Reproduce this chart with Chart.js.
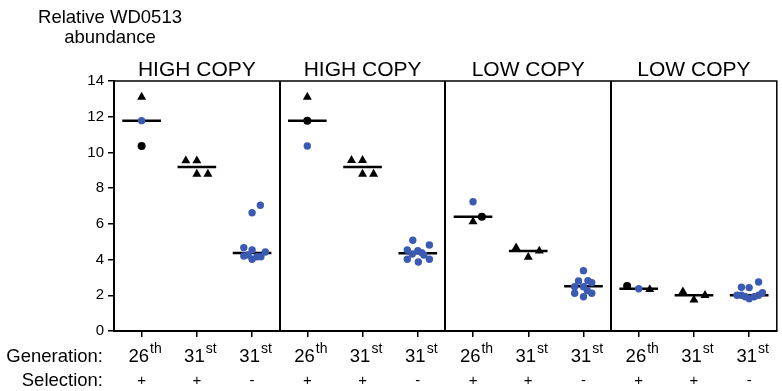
<!DOCTYPE html>
<html>
<head>
<meta charset="utf-8">
<script src="https://cdn.jsdelivr.net/npm/chart.js@4.4.1/dist/chart.umd.min.js"></script>
<style>
html,body{margin:0;padding:0;background:#fff;}
#wrap{width:782px;height:391px;}
</style>
</head>
<body>
<div id="wrap"><canvas id="c" width="782" height="391"></canvas></div>
<script>
// ---------- data ----------
const panelTitles = ['HIGH COPY', 'HIGH COPY', 'LOW COPY', 'LOW COPY'];
const generations = ['26', '31', '31', '26', '31', '31', '26', '31', '31', '26', '31', '31'];
const genSuffix   = ['th', 'st', 'st', 'th', 'st', 'st', 'th', 'st', 'st', 'th', 'st', 'st'];
const selection   = ['+', '+', '-', '+', '+', '-', '+', '+', '-', '+', '+', '-'];
const yTickValues = [0, 2, 4, 6, 8, 10, 12, 14];
const yTitle = ['Relative WD0513', 'abundance'];

// horizontal line value per category
const medians = [11.78, 9.18, 4.37, 11.78, 9.18, 4.35, 6.4, 4.48, 2.5, 2.37, 2.0, 2.0];

// black triangles: category index, value, horizontal jitter (in category units)
const triCat = [0, 1, 1, 1, 1, 3, 4, 4, 4, 4, 6, 7, 7, 7, 9, 10, 10, 10];
const triVal = [13.1, 9.54, 9.54, 8.79, 8.79, 13.1, 9.56, 9.56, 8.79, 8.79, 6.12, 4.67, 4.13, 4.48, 2.33, 2.2, 1.74, 2.0];
const triJit = [0, -0.2, 0, 0, 0.2, 0, -0.2, 0, 0, 0.2, 0, -0.22, 0, 0.2, 0.2, -0.2, 0, 0.2];

// black circles
const blkCat = [0, 3, 6, 9];
const blkVal = [10.36, 11.78, 6.4, 2.52];
const blkJit = [0, 0, 0.16, -0.21];

// blue circles
const bluCat = [0,
  2, 2, 2, 2, 2, 2, 2, 2, 2, 2,
  3,
  5, 5, 5, 5, 5, 5, 5, 5, 5, 5,
  6,
  8, 8, 8, 8, 8, 8, 8, 8, 8, 8,
  9,
  11, 11, 11, 11, 11, 11, 11, 11, 11, 11];
const bluVal = [11.78,
  4.67, 4.54, 4.2, 4.26, 4.02, 4.16, 4.16, 4.42, 6.62, 7.04,
  10.36,
  5.08, 4.82, 4.54, 4.5, 4.39, 4.31, 4.26, 4.02, 4.02, 3.86,
  7.24,
  3.38, 2.8, 2.82, 2.7, 2.48, 2.48, 2.11, 1.92, 2.11, 2.26,
  2.37,
  2.45, 2.43, 2.74, 2.0, 1.92, 1.81, 1.92, 2.14, 2.0, 2.0];
const bluJit = [0,
  -0.15, 0, -0.15, -0.07, 0, 0.09, 0.16, 0.24, 0, 0.15,
  0,
  -0.09, 0.21, -0.19, 0, 0.07, -0.1, 0.11, -0.19, 0.21, 0.01,
  0,
  0, -0.09, 0.08, 0.15, -0.16, 0, -0.16, 0, 0.15, 0.07,
  0,
  -0.14, 0, 0.17, -0.14, -0.07, 0, 0.09, 0.24, -0.22, 0.17];

// ---------- build ----------
const FONT = '"Liberation Sans", Arial, sans-serif';
const BLUE = '#3b5bb2';
const HALF = 0.35;
const pts = (cats, vals, jit) => cats.map((c, i) => ({ x: c + 0.5 + jit[i], y: vals[i] }));
const medianData = [];
medians.forEach((m, i) => {
  medianData.push({ x: i + 0.5 - HALF, y: m });
  medianData.push({ x: i + 0.5 + HALF, y: m });
  medianData.push({ x: i + 0.5 + HALF, y: null });
});

const overlay = {
  id: 'overlay',
  afterDraw(chart) {
    const { ctx, chartArea: a, scales: { x } } = chart;
    ctx.save();
    ctx.strokeStyle = '#000';
    ctx.lineWidth = 1.5;
    ctx.beginPath();
    ctx.moveTo(a.left, a.top);
    ctx.lineTo(a.right, a.top);
    ctx.lineTo(a.right, a.bottom);
    ctx.stroke();
    ctx.lineWidth = 2;
    for (let p = 1; p < panelTitles.length; p++) {
      const px = Math.round(x.getPixelForValue(p * 3));
      ctx.beginPath();
      ctx.moveTo(px, a.top);
      ctx.lineTo(px, a.bottom);
      ctx.stroke();
    }
    ctx.fillStyle = '#000';
    ctx.textBaseline = 'alphabetic';
    ctx.textAlign = 'center';
    ctx.font = '21px ' + FONT;
    panelTitles.forEach((t, p) => ctx.fillText(t, x.getPixelForValue(p * 3 + 1.5), a.top - 5));
    ctx.font = '18.5px ' + FONT;
    ctx.fillText(yTitle[0], a.left - 4, 23);
    ctx.fillText(yTitle[1], a.left - 4, 43);
    // row labels
    ctx.textAlign = 'right';
    ctx.fillText('Generation:', 103, 362);
    ctx.fillText('Selection:', 103, 386);
    // generation labels with superscript
    generations.forEach((g, i) => {
      const cx = x.getPixelForValue(i + 0.5) + 3;
      ctx.font = '18.5px ' + FONT;
      const w1 = ctx.measureText(g).width;
      ctx.font = '14px ' + FONT;
      const w2 = ctx.measureText(genSuffix[i]).width;
      const start = cx - (w1 + w2) / 2;
      ctx.textAlign = 'left';
      ctx.font = '18.5px ' + FONT;
      ctx.fillText(g, start, 362);
      ctx.font = '14px ' + FONT;
      ctx.fillText(genSuffix[i], start + w1 + 1, 353);
    });
    ctx.textAlign = 'center';
    ctx.font = '15px ' + FONT;
    selection.forEach((s, i) => {
      ctx.fillText(s, x.getPixelForValue(i + 0.5), 385);
    });
    ctx.restore();
  }
};

new Chart(document.getElementById('c'), {
  type: 'scatter',
  data: {
    datasets: [
      { label: 'triangles', data: pts(triCat, triVal, triJit), pointStyle: 'triangle', pointRadius: 5.2,
        backgroundColor: '#000', borderColor: '#000', borderWidth: 0 },
      { label: 'black', data: pts(blkCat, blkVal, blkJit), pointStyle: 'circle', pointRadius: 4,
        backgroundColor: '#000', borderColor: '#000', borderWidth: 0 },
      { label: 'blue', data: pts(bluCat, bluVal, bluJit), pointStyle: 'circle', pointRadius: 3.7,
        backgroundColor: BLUE, borderColor: BLUE, borderWidth: 0 },
      { type: 'line', label: 'median', data: medianData, showLine: true, spanGaps: false,
        pointRadius: 0, borderColor: '#000', borderWidth: 2.5, fill: false }
    ]
  },
  options: {
    responsive: false,
    animation: false,
    layout: { padding: { left: 0, top: 81, right: 2, bottom: 0 } },
    plugins: { legend: { display: false }, tooltip: { enabled: false } },
    scales: {
      x: {
        type: 'linear', min: 0, max: generations.length,
        afterBuildTicks: (s) => { s.ticks = generations.map((_, i) => ({ value: i + 0.5 })); },
        afterFit: (s) => { s.height = 60; },
        ticks: { callback: () => '', autoSkip: false },
        grid: { drawOnChartArea: false, drawTicks: true, tickLength: 6, color: '#000', lineWidth: 1.5 },
        border: { display: true, color: '#000', width: 2 }
      },
      y: {
        min: 0, max: 14,
        afterBuildTicks: (s) => { s.ticks = yTickValues.map(v => ({ value: v })); },
        afterFit: (s) => { s.width = 114; },
        ticks: { color: '#000', font: { family: FONT, size: 15 }, padding: 4 },
        grid: { drawOnChartArea: false, drawTicks: true, tickLength: 6, color: '#000', lineWidth: 1.5 },
        border: { display: true, color: '#000', width: 2 }
      }
    }
  },
  plugins: [overlay]
});
</script>
</body>
</html>
